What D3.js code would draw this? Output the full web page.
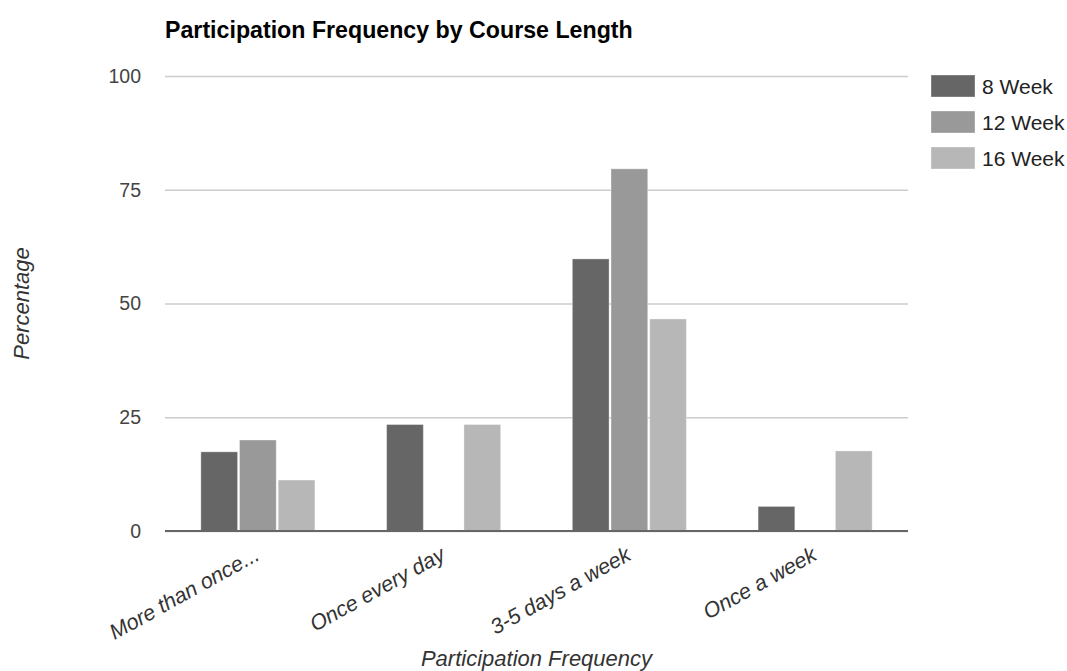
<!DOCTYPE html>
<html>
<head>
<meta charset="utf-8">
<script src="https://cdn.jsdelivr.net/npm/d3@7"></script>
<style>
  body { margin: 0; background: #fff; }
  svg { font-family: "Liberation Sans", Arial, sans-serif; }
</style>
</head>
<body>
<svg id="chart" width="1067" height="671"></svg>
<script>
// Data
const categories = ["More than once...", "Once every day", "3-5 days a week", "Once a week"];
const seriesNames = ["8 Week", "12 Week", "16 Week"];
const week8 = [17.4, 23.4, 59.8, 5.4];
const week12 = [20, 0, 79.6, 0];
const week16 = [11.2, 23.4, 46.6, 17.6];
const yTicks = [0, 25, 50, 75, 100];
const colors = ["#666666", "#999999", "#b7b7b7"];

const seriesValues = [week8, week12, week16];

const svg = d3.select("#chart");
const margin = { left: 165, right: 159, top: 76, bottom: 140 };
const width = 1067, height = 671;

const x0 = d3.scaleBand()
    .domain(categories)
    .range([margin.left, width - margin.right])
    .paddingInner(0.386)
    .paddingOuter(0.193);

const x1 = d3.scaleBand()
    .domain(seriesNames)
    .range([0, x0.bandwidth()])
    .paddingInner(0.05);

const y = d3.scaleLinear()
    .domain([0, 100])
    .range([height - margin.bottom, margin.top]);

const color = d3.scaleOrdinal().domain(seriesNames).range(colors);

// Gridlines + y labels
const yAxis = d3.axisLeft(y)
    .tickValues(yTicks)
    .tickSize(-(width - margin.left - margin.right))
    .tickPadding(24);

const gy = svg.append("g")
    .attr("transform", `translate(${margin.left},0)`)
    .call(yAxis);
gy.select(".domain").remove();
gy.selectAll(".tick line").attr("stroke", "#cccccc").attr("stroke-width", 1.5);
gy.selectAll(".tick text")
    .attr("fill", "#444")
    .style("font-size", "19.5px")
    .attr("font-family", "Liberation Sans, Arial, sans-serif");

// Bars
const groups = svg.append("g")
    .selectAll("g")
    .data(categories)
    .join("g")
    .attr("transform", d => `translate(${x0(d)},0)`);

groups.selectAll("rect")
    .data((d, i) => seriesNames.map((s, j) => ({ key: s, value: seriesValues[j][i] })))
    .join("rect")
    .filter(d => d.value > 0)
    .attr("x", d => x1(d.key))
    .attr("y", d => y(d.value))
    .attr("width", x1.bandwidth())
    .attr("height", d => y(0) - y(d.value))
    .attr("fill", d => color(d.key))
    .attr("stroke", "#ffffff")
    .attr("stroke-opacity", 0.35)
    .attr("stroke-width", 1);

// Baseline
svg.append("line")
    .attr("x1", margin.left)
    .attr("x2", width - margin.right)
    .attr("y1", y(0))
    .attr("y2", y(0))
    .attr("stroke", "#666")
    .attr("stroke-width", 2);

// X labels, rotated
const xAxis = d3.axisBottom(x0).tickSize(0).tickPadding(0);
const gx = svg.append("g")
    .attr("transform", `translate(0,${y(0)})`)
    .call(xAxis);
gx.select(".domain").remove();
gx.selectAll(".tick text")
    .attr("fill", "#333")
    .style("font-size", "21.5px")
    .style("font-style", "italic")
    .attr("font-family", "Liberation Sans, Arial, sans-serif")
    .attr("text-anchor", "end")
    .attr("dy", null)
    .attr("y", 0)
    .attr("transform", "translate(3,28) rotate(-29)");

// Title
svg.append("text")
    .attr("x", margin.left)
    .attr("y", 38)
    .attr("font-weight", "bold")
    .attr("font-size", 23.2)
    .attr("fill", "#000")
    .text("Participation Frequency by Course Length");

// Axis titles
svg.append("text")
    .attr("x", (margin.left + width - margin.right) / 2)
    .attr("y", 666)
    .attr("text-anchor", "middle")
    .attr("font-style", "italic")
    .attr("font-size", 22)
    .attr("fill", "#333")
    .text("Participation Frequency");

svg.append("text")
    .attr("transform", `translate(29,${(y(0) + y(100)) / 2}) rotate(-90)`)
    .attr("text-anchor", "middle")
    .attr("font-style", "italic")
    .attr("font-size", 22)
    .attr("fill", "#333")
    .text("Percentage");

// Legend
const legend = svg.append("g")
    .selectAll("g")
    .data(seriesNames)
    .join("g")
    .attr("transform", (d, i) => `translate(931,${75 + i * 36})`);

legend.append("rect")
    .attr("width", 44)
    .attr("height", 22)
    .attr("fill", d => color(d))
    .attr("stroke", "#ffffff")
    .attr("stroke-opacity", 0.35);

legend.append("text")
    .attr("x", 51)
    .attr("y", 18.5)
    .attr("font-size", 21)
    .attr("fill", "#222")
    .text(d => d);
</script>
</body>
</html>
